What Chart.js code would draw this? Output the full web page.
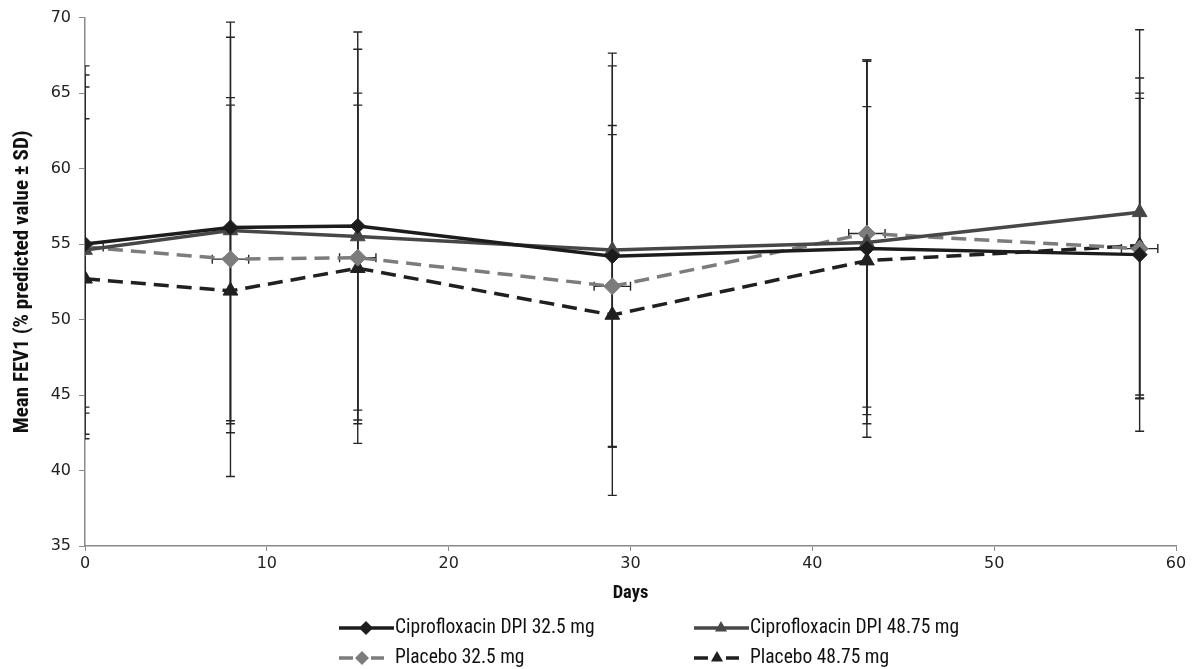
<!DOCTYPE html>
<html>
<head>
<meta charset="utf-8">
<script src="https://cdn.jsdelivr.net/npm/chart.js@4/dist/chart.umd.min.js"></script>
<style>
  html, body { margin: 0; padding: 0; background: #fff; }
  #wrap { width: 1195px; height: 669px; }
</style>
</head>
<body>
<div id="wrap"><canvas id="chart" width="1195" height="669"></canvas></div>
<script>
// study days
const days = [0, 8, 15, 29, 43, 58];

// mean FEV1 (% predicted) and SD per group
const cipro325 = [55.0, 56.1, 56.2, 54.2, 54.7, 54.3];
const cipro325Sd = [11.2, 13.6, 12.85, 12.6, 12.5, 11.7];

const cipro4875 = [54.6, 55.9, 55.5, 54.6, 55.1, 57.1];
const cipro4875Sd = [12.2, 12.8, 12.4, 13.05, 12.0, 12.1];

const placebo325 = [54.8, 54.0, 54.1, 52.2, 55.7, 54.7];
const placebo325Sd = [10.6, 10.7, 10.1, 10.65, 11.5, 9.95];
const placebo325DaySd = [1, 1, 1, 1, 1, 1];

const placebo4875 = [52.7, 51.9, 53.4, 50.3, 53.9, 54.9];
const placebo4875Sd = [10.6, 12.3, 11.6, 11.95, 10.2, 10.1];

const yTicks = [35, 40, 45, 50, 55, 60, 65, 70];

const labelFont = "'Liberation Sans Narrow', 'Roboto Condensed', 'Noto Sans', sans-serif";
const tickFont = "'DejaVu Sans', sans-serif";

const toPoints = vals => vals.map((v, i) => ({x: days[i], y: v}));

function makeSet(label, vals, sd, color, style, dashed, radius) {
  return {
    label: label,
    data: toPoints(vals),
    sd: sd,
    borderColor: color,
    backgroundColor: color,
    borderWidth: 3.5,
    borderDash: dashed ? [15, 8] : [],
    pointStyle: style,
    pointRadius: radius,
    pointHoverRadius: radius,
    pointBorderWidth: 1,
    tension: 0
  };
}

const datasets = [
  makeSet('Ciprofloxacin DPI 32.5 mg', cipro325, cipro325Sd, '#1c1c1c', 'rectRot', false, 7.5),
  makeSet('Ciprofloxacin DPI 48.75 mg', cipro4875, cipro4875Sd, '#474747', 'triangle', false, 8.5),
  makeSet('Placebo 32.5 mg', placebo325, placebo325Sd, '#7c7c7c', 'rectRot', true, 8.5),
  makeSet('Placebo 48.75 mg', placebo4875, placebo4875Sd, '#202020', 'triangle', true, 8.5)
];
datasets[2].xSd = placebo325DaySd;

// SD whiskers, drawn under the lines
const errorBars = {
  id: 'errorBars',
  beforeDatasetsDraw(chart) {
    const {ctx, chartArea, scales: {x, y}} = chart;
    const cap = 4.5;
    ctx.save();
    ctx.beginPath();
    ctx.rect(chartArea.left, chartArea.top - 20, chartArea.right - chartArea.left + 20, chartArea.bottom - chartArea.top + 20);
    ctx.clip();
    ctx.strokeStyle = '#262626';
    ctx.lineWidth = 1.4;
    chart.data.datasets.forEach(ds => {
      ds.data.forEach((p, i) => {
        const px = x.getPixelForValue(p.x);
        const top = y.getPixelForValue(p.y + ds.sd[i]);
        const bot = y.getPixelForValue(p.y - ds.sd[i]);
        ctx.beginPath();
        ctx.moveTo(px, top); ctx.lineTo(px, bot);
        ctx.moveTo(px - cap, top); ctx.lineTo(px + cap, top);
        ctx.moveTo(px - cap, bot); ctx.lineTo(px + cap, bot);
        ctx.stroke();
        if (ds.xSd) {
          const py = y.getPixelForValue(p.y);
          const l = x.getPixelForValue(p.x - ds.xSd[i]);
          const r = x.getPixelForValue(p.x + ds.xSd[i]);
          ctx.beginPath();
          ctx.moveTo(l, py); ctx.lineTo(r, py);
          if (l >= chartArea.left + 1) { ctx.moveTo(l, py - cap); ctx.lineTo(l, py + cap); }
          ctx.moveTo(r, py - cap); ctx.lineTo(r, py + cap);
          ctx.stroke();
        }
      });
    });
    ctx.restore();
  }
};

// two-column legend under the axis
const bottomLegend = {
  id: 'bottomLegend',
  afterDraw(chart) {
    const ctx = chart.ctx;
    const cols = [339, 694];
    const rows = [628, 658];
    ctx.save();
    chart.data.datasets.forEach((ds, i) => {
      const x0 = cols[i % 2];
      const y0 = rows[Math.floor(i / 2)];
      const dashed = ds.borderDash.length > 0;
      ctx.strokeStyle = ds.borderColor;
      ctx.lineWidth = ds.borderWidth;
      ctx.beginPath();
      let mx;
      if (dashed) {
        ctx.moveTo(x0, y0); ctx.lineTo(x0 + 14, y0);
        ctx.moveTo(x0 + 32, y0); ctx.lineTo(x0 + 45, y0);
        mx = x0 + 23;
      } else {
        ctx.moveTo(x0, y0); ctx.lineTo(x0 + 55, y0);
        mx = x0 + 27;
      }
      ctx.stroke();
      ctx.fillStyle = ds.backgroundColor;
      Chart.helpers.drawPoint(ctx, {pointStyle: ds.pointStyle, radius: 7, rotation: 0, borderWidth: 0}, mx, y0);
      ctx.fillStyle = '#111';
      ctx.font = '19.5px ' + labelFont;
      ctx.textBaseline = 'middle';
      ctx.fillText(ds.label, x0 + 56, y0);
    });
    ctx.restore();
  }
};

new Chart(document.getElementById('chart').getContext('2d'), {
  type: 'line',
  data: {datasets: datasets},
  plugins: [errorBars, bottomLegend],
  options: {
    responsive: false,
    animation: false,
    events: [],
    layout: {padding: {top: 15, right: 19, left: 0, bottom: 0}},
    plugins: {legend: {display: false}, tooltip: {enabled: false}},
    scales: {
      x: {
        type: 'linear',
        min: 0,
        max: 60,
        afterFit: s => { s.height = 123; },
        ticks: {stepSize: 10, color: '#222', padding: 3, font: {family: tickFont, size: 16}},
        grid: {drawOnChartArea: false, drawTicks: true, tickLength: 5, color: '#8a8a8a'},
        border: {color: '#8a8a8a', width: 1.5},
        title: {display: true, text: 'Days', color: '#111', font: {family: labelFont, size: 18.5, weight: 'bold'}, padding: {top: 0, bottom: 65}}
      },
      y: {
        min: 35,
        max: 70,
        afterFit: s => { s.width = 85; },
        afterBuildTicks: s => { s.ticks = yTicks.map(v => ({value: v})); },
        ticks: {color: '#222', padding: 8, font: {family: tickFont, size: 16}},
        grid: {drawOnChartArea: false, drawTicks: true, tickLength: 6, color: '#8a8a8a'},
        border: {color: '#8a8a8a', width: 1.5},
        title: {display: true, text: 'Mean FEV1 (% predicted value ± SD)', color: '#111', font: {family: labelFont, size: 21, weight: 'bold'}, padding: {top: 10, bottom: 0}}
      }
    }
  }
});
</script>
</body>
</html>
